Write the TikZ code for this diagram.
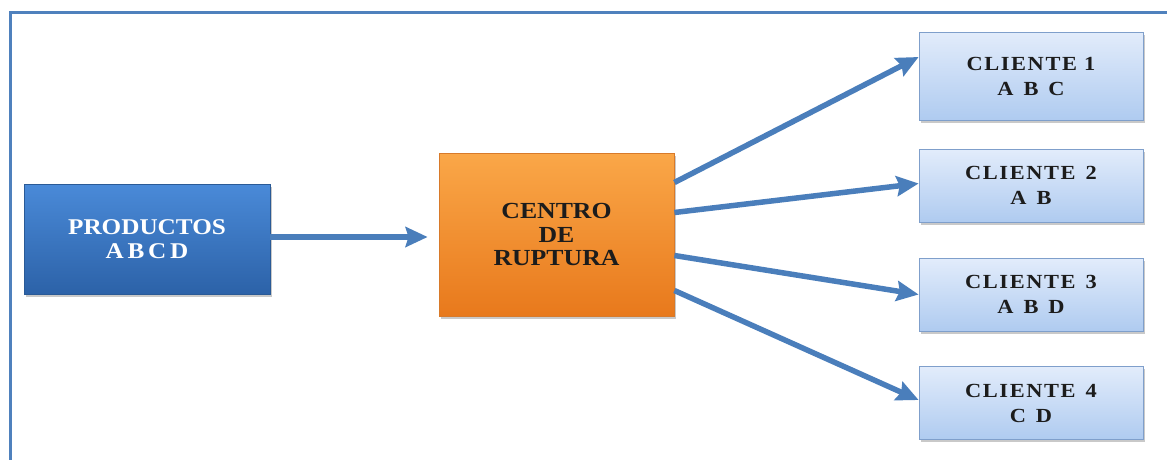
\documentclass[tikz,border=0pt]{standalone}
\usepackage{fontspec}
\setmainfont{Liberation Serif}[FakeStretch=1.12]
\usetikzlibrary{arrows.meta,shadows,positioning}

\definecolor{framecol}{HTML}{4F81BD}
\definecolor{arrowcol}{HTML}{4A7EBB}
\definecolor{prodtop}{HTML}{4A8AD8}
\definecolor{prodbot}{HTML}{2C62A8}
\definecolor{prodedge}{HTML}{2A5A96}
\definecolor{centop}{HTML}{FAA748}
\definecolor{cenbot}{HTML}{E8791C}
\definecolor{cenedge}{HTML}{D87A2A}
\definecolor{clitop}{HTML}{E2ECFB}
\definecolor{clibot}{HTML}{AFCBF0}
\definecolor{cliedge}{HTML}{7F9FCB}
\definecolor{inkcol}{HTML}{1C1C1C}

\tikzset{
  box/.style={rectangle, draw, line width=0.8pt, align=center,
    drop shadow={shadow xshift=2pt, shadow yshift=-2.5pt, opacity=0.35, fill=black!60}},
  prodbox/.style={box, draw=prodedge, top color=prodtop, bottom color=prodbot,
    text=white, minimum width=246pt, minimum height=110pt,
    font=\bfseries\fontsize{22.5}{24}\selectfont},
  cenbox/.style={box, draw=cenedge, top color=centop, bottom color=cenbot,
    text=inkcol, minimum width=235pt, minimum height=163pt,
    font=\bfseries\fontsize{23}{23.5}\selectfont},
  clibox/.style={box, draw=cliedge, top color=clitop, bottom color=clibot,
    text=inkcol, minimum width=224pt, minimum height=73pt,
    font=\bfseries\fontsize{20}{25}\selectfont\addfontfeatures{LetterSpace=8}},
  flow/.style={draw=arrowcol, line width=5.5pt,
    -{Stealth[length=22pt, width=20pt, inset=3pt]}}
}

\begin{document}
\begin{tikzpicture}[x=1pt, y=-1pt]
  \useasboundingbox (0,0) rectangle (1167,459);
  \fill[white] (0,0) rectangle (1167,459);

  % outer frame (runs past the right and bottom edges)
  \draw[framecol, line width=3pt] (10,475) -- (10,12) -- (1185,12);

  % nodes
  \node[prodbox] (prod) at (147,239) {PRODUCTOS\\A\,B\,C\,D};
  \node[cenbox] (cen) at (556.5,234.5) {CENTRO\\DE\\RUPTURA};
  \node[clibox, minimum height=88pt] (c1) at (1031,76) {CLIENTE 1\\A\enspace B\enspace C};
  \node[clibox] (c2) at (1031,185.5) {CLIENTE\enspace 2\\A\enspace B};
  \node[clibox] (c3) at (1031,294.5) {CLIENTE\enspace 3\\A\enspace B\enspace D};
  \node[clibox] (c4) at (1031,403)   {CLIENTE\enspace 4\\C\enspace D};

  % connectors
  \draw[flow, shorten >=11pt] ([yshift=2pt]prod.east) -- ([yshift=2pt]prod.east -| cen.west);
  \draw[flow] ([yshift=52pt]cen.east) -- ([yshift=19pt]c1.west);
  \draw[flow] ([yshift=22pt]cen.east) -- ([yshift=2pt]c2.west);
  \draw[flow] ([yshift=-21pt]cen.east) -- ([yshift=0pt]c3.west);
  \draw[flow] ([yshift=-56pt]cen.east) -- ([yshift=3pt]c4.west);
\end{tikzpicture}
\end{document}
